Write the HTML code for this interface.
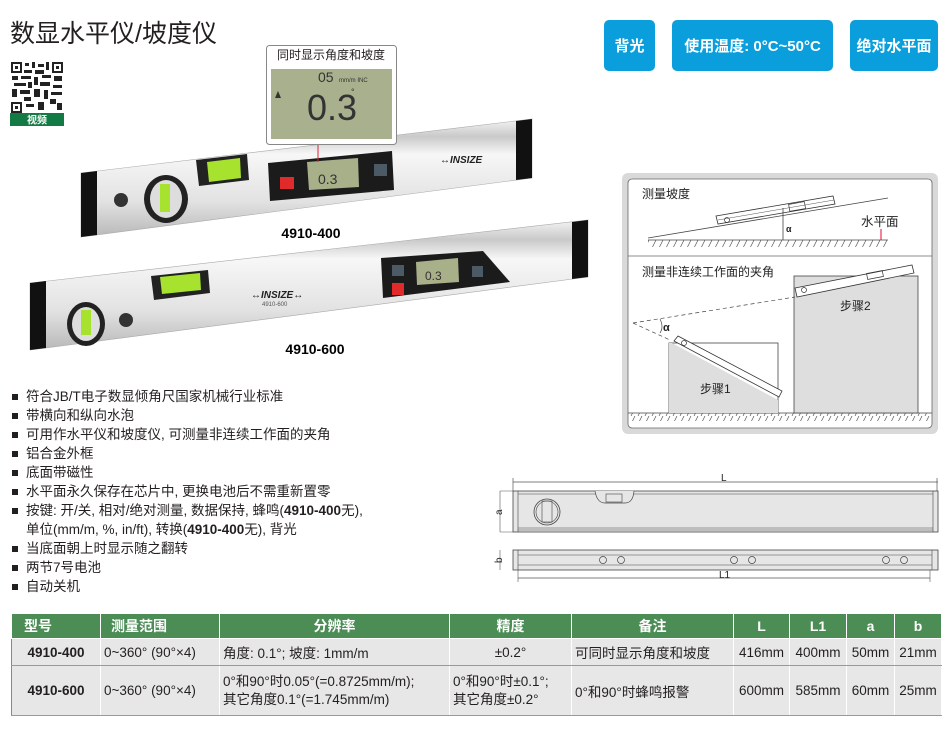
<!DOCTYPE html>
<html><head><meta charset="utf-8">
<style>
*{margin:0;padding:0;box-sizing:border-box}
body{width:950px;height:731px;background:#fff;position:relative;overflow:hidden;font-family:"Liberation Sans","Noto Sans CJK SC",sans-serif;color:#231f20}
.abs{position:absolute}
.title{left:10px;top:14px;font-size:25px;letter-spacing:0px;color:#231f20}
.badge{position:absolute;top:20px;height:51px;background:#0a9fdc;border-radius:5px;color:#fff;font-weight:bold;font-size:15px;display:flex;align-items:center;justify-content:center}
.bul{position:absolute;left:12px;font-size:13.5px;line-height:19px}
.bul div{position:relative;padding-left:14px;white-space:nowrap}
.bul div.b:before{content:"";position:absolute;left:0;top:7px;width:6px;height:6px;background:#231f20}
table{position:absolute;left:11px;top:613px;border-collapse:collapse;font-size:13.5px}
td,th{border:1px solid #fff;border-left:1px solid #888;padding:0 3px;white-space:nowrap;text-align:center}
th{background:#4b8d55;color:#fff;height:25px;font-weight:bold;font-size:14px;border-left:1px solid #fff}
td{background:#e7e7e7;border-bottom:1px solid #999}
td.l{text-align:left}
</style></head><body>
<div class="abs title">数显水平仪/坡度仪</div>

<!-- QR -->
<svg class="abs" style="left:10px;top:61px" width="54" height="65">
<rect width="54" height="65" fill="#fff"/>
<g fill="#222">
<rect x="1" y="1" width="11" height="11"/><rect x="42" y="1" width="11" height="11"/><rect x="1" y="41" width="11" height="11"/>
<rect x="15" y="2" width="4" height="3"/><rect x="22" y="1" width="3" height="6"/><rect x="28" y="3" width="6" height="3"/><rect x="36" y="1" width="3" height="8"/>
<rect x="14" y="9" width="8" height="3"/><rect x="25" y="9" width="9" height="4"/><rect x="2" y="15" width="6" height="4"/><rect x="11" y="15" width="10" height="3"/>
<rect x="24" y="16" width="4" height="8"/><rect x="32" y="14" width="9" height="3"/><rect x="44" y="15" width="8" height="5"/><rect x="4" y="22" width="12" height="3"/>
<rect x="18" y="21" width="4" height="6"/><rect x="30" y="21" width="10" height="4"/><rect x="43" y="24" width="9" height="3"/><rect x="2" y="28" width="5" height="8"/>
<rect x="10" y="29" width="10" height="4"/><rect x="24" y="28" width="6" height="8"/><rect x="34" y="29" width="4" height="9"/><rect x="41" y="31" width="11" height="3"/>
<rect x="14" y="36" width="7" height="4"/><rect x="40" y="38" width="6" height="5"/><rect x="16" y="43" width="8" height="3"/><rect x="28" y="41" width="6" height="8"/><rect x="47" y="42" width="5" height="7"/>
</g>
<rect x="3" y="3" width="7" height="7" fill="#fff"/><rect x="44" y="3" width="7" height="7" fill="#fff"/><rect x="3" y="43" width="7" height="7" fill="#fff"/>
<rect x="5" y="5" width="3" height="3" fill="#222"/><rect x="46" y="5" width="3" height="3" fill="#222"/><rect x="5" y="45" width="3" height="3" fill="#222"/>
<rect x="0" y="52" width="54" height="13" fill="#137a45"/>
<text x="27" y="62.5" font-size="10" font-weight="bold" fill="#fff" text-anchor="middle">视频</text>
</svg>

<div class="badge" style="left:604px;width:51px">背光</div>
<div class="badge" style="left:672px;width:161px">使用温度: 0°C~50°C</div>
<div class="badge" style="left:850px;width:88px">绝对水平面</div>

<!-- Products -->
<svg class="abs" style="left:0;top:40px" width="600" height="330" viewBox="0 40 600 330">
<defs>
<linearGradient id="al" x1="0" y1="0" x2="0" y2="1">
<stop offset="0" stop-color="#f4f4f4"/><stop offset=".15" stop-color="#c9c9c9"/><stop offset=".3" stop-color="#f7f7f7"/><stop offset=".7" stop-color="#e2e2e2"/><stop offset="1" stop-color="#b8b8b8"/>
</linearGradient>
</defs>
<!-- 400 level -->
<polygon points="81,173 532,119 532,178 81,237" fill="url(#al)" stroke="#aaa" stroke-width=".6"/>
<polygon points="81,173 97,171 97,235 81,237" fill="#111"/>
<polygon points="516,121 532,119 532,178 516,180" fill="#111"/>
<polygon points="196,160 247,154 249,180 199,186" fill="#222"/>
<polygon points="207,162 240,158 241,178 209,182" fill="#a6e22e"/>
<ellipse cx="166" cy="199" rx="22" ry="24" fill="#222"/><ellipse cx="166" cy="199" rx="16" ry="19" fill="#ddd"/>
<rect x="160" y="184" width="10" height="28" fill="#a6e22e"/>
<circle cx="121" cy="200" r="7" fill="#333"/>
<polygon points="268,163 392,151 394,190 270,201" fill="#1b1b1b"/>
<polygon points="307,162 358,158 359,187 309,190" fill="#a8b08a"/>
<text x="318" y="184" font-size="14" fill="#333">0.3</text>
<rect x="280" y="177" width="14" height="12" fill="#e12a2a"/>
<rect x="374" y="164" width="13" height="12" fill="#4c5a66"/>
<text x="440" y="163" font-size="10" font-weight="bold" font-style="italic" fill="#222">↔INSIZE</text>
<!-- 600 level -->
<polygon points="30,283 588,220 588,277 30,350" fill="url(#al)" stroke="#aaa" stroke-width=".6"/>
<polygon points="30,283 46,281 46,348 30,350" fill="#111"/>
<polygon points="572,222 588,220 588,277 572,279" fill="#111"/>
<polygon points="151,276 208,270 210,293 154,300" fill="#222"/>
<polygon points="160,277 200,273 201,290 162,294" fill="#a6e22e"/>
<ellipse cx="86" cy="324" rx="19" ry="22" fill="#222"/><ellipse cx="86" cy="324" rx="14" ry="17" fill="#ddd"/>
<rect x="81" y="310" width="10" height="25" fill="#a6e22e"/>
<circle cx="126" cy="320" r="7" fill="#333"/>
<polygon points="381,258 483,251 510,282 383,298" fill="#1b1b1b"/>
<polygon points="416,262 458,258 459,282 417,285" fill="#a8b08a"/>
<text x="425" y="280" font-size="12" fill="#333">0.3</text>
<rect x="392" y="283" width="12" height="12" fill="#e12a2a"/>
<rect x="392" y="265" width="12" height="11" fill="#4c5a66"/>
<rect x="472" y="266" width="11" height="11" fill="#4c5a66"/>
<text x="251" y="298" font-size="10" font-weight="bold" font-style="italic" fill="#222">↔INSIZE↔</text>
<text x="262" y="306" font-size="6" fill="#555">4910-600</text>
<!-- callout -->
<line x1="318" y1="145" x2="318" y2="162" stroke="#d23" stroke-width="1"/>
<rect x="266.5" y="45.5" width="130" height="99" rx="3" fill="#fff" stroke="#888"/>
<rect x="271" y="69" width="121" height="70" fill="#a9b08e"/>
<text x="331" y="59" font-size="12" text-anchor="middle" fill="#231f20" font-family="Liberation Sans,Noto Sans CJK SC,sans-serif">同时显示角度和坡度</text>
<text x="318" y="82" font-size="14" fill="#333">05</text><text x="339" y="82" font-size="6" fill="#333">mm/m INC</text>
<text x="307" y="120" font-size="36" fill="#333" font-family="Liberation Sans Narrow,Liberation Sans,sans-serif">0.3</text>
<text x="351" y="95" font-size="9" fill="#333">°</text>
<polygon points="275,98 278,91 281,98" fill="#333"/>
<text x="311" y="238" font-size="14" font-weight="bold" text-anchor="middle">4910-400</text>
<text x="315" y="354" font-size="14" font-weight="bold" text-anchor="middle">4910-600</text>
</svg>

<!-- Bullets -->
<div class="bul" style="top:387px">
<div class="b">符合<b style="font-weight:normal">JB/T</b>电子数显倾角尺国家机械行业标准</div>
<div class="b">带横向和纵向水泡</div>
<div class="b">可用作水平仪和坡度仪, 可测量非连续工作面的夹角</div>
<div class="b">铝合金外框</div>
<div class="b">底面带磁性</div>
<div class="b">水平面永久保存在芯片中, 更换电池后不需重新置零</div>
<div class="b">按键: 开/关, 相对/绝对测量, 数据保持, 蜂鸣(<b>4910-400</b>无),</div>
<div>单位(mm/m, %, in/ft), 转换(<b>4910-400</b>无), 背光</div>
<div class="b">当底面朝上时显示随之翻转</div>
<div class="b">两节7号电池</div>
<div class="b">自动关机</div>
</div>

<!-- Right diagram -->
<svg class="abs" style="left:0;top:0" width="950" height="731">
<defs>
<pattern id="hat" width="7" height="8" patternUnits="userSpaceOnUse"><line x1="5" y1="0" x2="1" y2="8" stroke="#555" stroke-width=".7"/></pattern>
</defs>
<rect x="622" y="173" width="316" height="261" rx="6" fill="#d9d9d9"/>
<rect x="628" y="179" width="304" height="249" rx="4" fill="#fff" stroke="#666" stroke-width=".8"/>
<line x1="628" y1="256" x2="932" y2="256" stroke="#666" stroke-width=".8"/>
<text x="642" y="198" font-size="12" fill="#222">测量坡度</text>
<rect x="648" y="240" width="240" height="7" fill="url(#hat)"/>
<line x1="648" y1="240" x2="888" y2="240" stroke="#444" stroke-width=".8"/>
<line x1="648" y1="238" x2="888" y2="198" stroke="#444" stroke-width=".8"/>
<polygon points="716,216 833,196 835,204 718,224" fill="#fff" stroke="#333" stroke-width=".8"/>
<line x1="718" y1="220" x2="834" y2="200" stroke="#555" stroke-width=".5"/>
<circle cx="727" cy="220" r="2.5" fill="none" stroke="#333" stroke-width=".7"/>
<rect x="789" y="203" width="16" height="7" fill="none" stroke="#333" stroke-width=".7" transform="rotate(-10 797 206)"/>
<line x1="783" y1="208" x2="783" y2="240" stroke="#444" stroke-width=".8"/>
<text x="786" y="232" font-size="9" font-weight="bold" fill="#222">α</text>
<text x="861" y="226" font-size="12.5" fill="#222">水平面</text>
<line x1="881" y1="229" x2="881" y2="240" stroke="#e03" stroke-width="1"/>

<text x="642" y="276" font-size="12" fill="#222">测量非连续工作面的夹角</text>
<rect x="628" y="413" width="304" height="8" fill="url(#hat)"/>
<line x1="628" y1="413" x2="932" y2="413" stroke="#444" stroke-width=".8"/>
<rect x="669" y="343" width="109" height="70" fill="#fff" stroke="#444" stroke-width=".8"/>
<polygon points="669,343 672,343 778,400 778,413 669,413" fill="#dedede"/>
<polygon points="678,336 782,391 779,397 674,341" fill="#fff" stroke="#333" stroke-width=".8"/>
<circle cx="684" cy="343" r="2.5" fill="none" stroke="#333" stroke-width=".7"/>
<rect x="794" y="276" width="124" height="137" fill="#dedede" stroke="#444" stroke-width=".8"/>
<polygon points="795,288 912,265 914,273 797,297" fill="#fff" stroke="#333" stroke-width=".8"/>
<circle cx="804" cy="290" r="2.5" fill="none" stroke="#333" stroke-width=".7"/>
<rect x="867" y="272" width="16" height="6" fill="none" stroke="#333" stroke-width=".7" transform="rotate(-11 875 275)"/>
<line x1="633" y1="323" x2="795" y2="297" stroke="#444" stroke-width=".7" stroke-dasharray="4,3"/>
<line x1="633" y1="323" x2="670" y2="340" stroke="#444" stroke-width=".7" stroke-dasharray="4,3"/>
<path d="M660,319 Q664,327 660,333" fill="none" stroke="#444" stroke-width=".7"/>
<text x="663" y="331" font-size="11" font-weight="bold" fill="#222">α</text>
<text x="700" y="393" font-size="12" fill="#222">步骤1</text>
<text x="840" y="310" font-size="12" fill="#222">步骤2</text>

<!-- dimension drawing -->
<line x1="513" y1="482" x2="938" y2="482" stroke="#555" stroke-width=".7"/>
<line x1="513" y1="478" x2="513" y2="491" stroke="#555" stroke-width=".7"/>
<line x1="937" y1="478" x2="937" y2="491" stroke="#555" stroke-width=".7"/>
<text x="721" y="481" font-size="10" fill="#222">L</text>
<rect x="513" y="491" width="425" height="41" fill="#e6e6e6" stroke="#444" stroke-width=".8"/>
<line x1="518" y1="491" x2="518" y2="532" stroke="#444" stroke-width=".6"/>
<line x1="933" y1="491" x2="933" y2="532" stroke="#444" stroke-width=".6"/>
<line x1="518" y1="494" x2="598" y2="494" stroke="#444" stroke-width=".6"/>
<line x1="632" y1="494" x2="933" y2="494" stroke="#444" stroke-width=".6"/>
<line x1="518" y1="528" x2="933" y2="528" stroke="#444" stroke-width=".6"/>
<line x1="518" y1="530" x2="933" y2="530" stroke="#444" stroke-width=".6"/>
<path d="M595,491 Q597,503 605,503 L625,503 Q633,503 634,491" fill="#e6e6e6" stroke="#444" stroke-width=".7"/>
<rect x="606" y="494" width="16" height="8" fill="none" stroke="#444" stroke-width=".6"/>
<circle cx="547" cy="512" r="13" fill="none" stroke="#444" stroke-width=".8"/>
<circle cx="547" cy="512" r="11" fill="none" stroke="#444" stroke-width=".6"/>
<rect x="542" y="501" width="10" height="21" fill="none" stroke="#444" stroke-width=".6"/>
<line x1="500" y1="491" x2="500" y2="532" stroke="#555" stroke-width=".6"/>
<line x1="500" y1="491" x2="513" y2="491" stroke="#555" stroke-width=".5"/>
<line x1="500" y1="532" x2="513" y2="532" stroke="#555" stroke-width=".5"/>
<text x="0" y="0" font-size="10" fill="#222" transform="translate(502,515) rotate(-90)">a</text>
<rect x="513" y="550" width="425" height="20" fill="#e6e6e6" stroke="#444" stroke-width=".8"/>
<line x1="518" y1="550" x2="518" y2="570" stroke="#444" stroke-width=".6"/>
<line x1="932" y1="550" x2="932" y2="570" stroke="#444" stroke-width=".6"/>
<line x1="518" y1="555" x2="932" y2="555" stroke="#444" stroke-width=".5"/>
<line x1="518" y1="565" x2="932" y2="565" stroke="#444" stroke-width=".5"/>
<g fill="#e6e6e6" stroke="#444" stroke-width=".7">
<circle cx="603" cy="560" r="3.5"/><circle cx="621" cy="560" r="3.5"/>
<circle cx="734" cy="560" r="3.5"/><circle cx="752" cy="560" r="3.5"/>
<circle cx="886" cy="560" r="3.5"/><circle cx="904" cy="560" r="3.5"/>
</g>
<line x1="500" y1="550" x2="500" y2="570" stroke="#555" stroke-width=".6"/>
<text x="0" y="0" font-size="10" fill="#222" transform="translate(502,563) rotate(-90)">b</text>
<line x1="518" y1="578" x2="930" y2="578" stroke="#555" stroke-width=".7"/>
<line x1="518" y1="570" x2="518" y2="582" stroke="#555" stroke-width=".6"/>
<line x1="930" y1="570" x2="930" y2="582" stroke="#555" stroke-width=".6"/>
<text x="719" y="578" font-size="10" fill="#222">L1</text>
</svg>

<table>
<tr><th style="width:89px;text-align:left;padding-left:12px">型号</th><th style="width:119px;text-align:left;padding-left:10px">测量范围</th><th style="width:230px">分辨率</th><th style="width:122px">精度</th><th style="width:162px">备注</th><th style="width:56px">L</th><th style="width:57px">L1</th><th style="width:48px">a</th><th style="width:47px">b</th></tr>
<tr style="height:27px"><td style="font-weight:bold">4910-400</td><td class="l">0~360° (90°×4)</td><td class="l">角度: 0.1°; 坡度: 1mm/m</td><td>±0.2°</td><td class="l">可同时显示角度和坡度</td><td style="padding:0">416mm</td><td style="padding:0">400mm</td><td style="padding:0">50mm</td><td style="padding:0">21mm</td></tr>
<tr style="height:50px"><td style="font-weight:bold">4910-600</td><td class="l">0~360° (90°×4)</td><td class="l" style="line-height:18px">0°和90°时0.05°(=0.8725mm/m);<br>其它角度0.1°(=1.745mm/m)</td><td class="l" style="line-height:18px">0°和90°时±0.1°;<br>其它角度±0.2°</td><td class="l">0°和90°时蜂鸣报警</td><td style="padding:0">600mm</td><td style="padding:0">585mm</td><td style="padding:0">60mm</td><td style="padding:0">25mm</td></tr>
</table>
</body></html>
